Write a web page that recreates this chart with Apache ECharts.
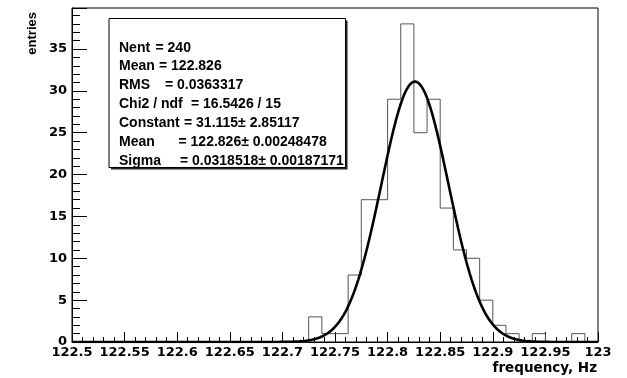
<!DOCTYPE html>
<html>
<head>
<meta charset="utf-8">
<script src="https://cdn.jsdelivr.net/npm/echarts@6/dist/echarts.min.js"></script>
<style>
  html, body { margin: 0; padding: 0; background: #fff; }
  #chart { width: 627px; height: 378px; }
</style>
</head>
<body>
<div id="chart"></div>
<script>
// Histogram binning: 40 bins of 0.0125 Hz starting at 122.5 Hz
const xLow = 122.5;
const xHigh = 123.0;
const binWidth = 0.0125;
const counts = [
  0, 0, 0, 0, 0, 0, 0, 0, 0, 0,
  0, 0, 0, 0, 0, 0, 0, 0, 3, 1,
  1, 8, 17, 17, 29, 38, 25, 29, 16, 11,
  10, 5, 2, 1, 0, 1, 0, 0, 1, 0
];

// Gaussian fit parameters
const fitConstant = 31.115;
const fitMean = 122.826;
const fitSigma = 0.0318518;

// Statistics box lines: name and "= value" text
const statNames = ['Nent', 'Mean', 'RMS', 'Chi2 / ndf', 'Constant', 'Mean', 'Sigma'];
const statValues = [
  '= 240',
  '= 122.826',
  '= 0.0363317',
  '= 16.5426 / 15',
  '= 31.115\u00b1 2.85117',
  '= 122.826\u00b1 0.00248478',
  '= 0.0318518\u00b1 0.00187171'
];
const statEqX = [155.5, 159, 165, 191, 184, 178.5, 180];

const xTitle = 'frequency, Hz';
const yTitle = 'entries';

const FONT = '"Liberation Sans", Arial, Helvetica, sans-serif';
const TICKFONT = '"DejaVu Sans", Verdana, sans-serif';

// Step outline of the histogram: one point per left bin edge, plus the right edge
const histData = counts.map((c, i) => [xLow + i * binWidth, c]);
histData.push([xHigh, counts[counts.length - 1]]);

// Fitted gaussian sampled across the histogram range
const fitData = [];
for (let i = 0; i <= 500; i++) {
  const x = xLow + (xHigh - xLow) * i / 500;
  const u = (x - fitMean) / fitSigma;
  fitData.push([x, fitConstant * Math.exp(-0.5 * u * u)]);
}

const chart = echarts.init(document.getElementById('chart'), null, { renderer: 'canvas' });

const boxL = 109, boxT = 18.5, boxR = 345.5, boxB = 167.5;
const lineY0 = 47.7, lineStep = 18.9;
const statGraphics = [];
// shadow and frame of the stats box
statGraphics.push({
  type: 'rect', shape: { x: boxL + 2, y: boxT + 2, width: boxR - boxL, height: boxB - boxT },
  style: { fill: '#222' }, z: 100
});
statGraphics.push({
  type: 'rect', shape: { x: boxL, y: boxT, width: boxR - boxL, height: boxB - boxT },
  style: { fill: '#fff', stroke: '#000', lineWidth: 1 }, z: 101
});
statNames.forEach((name, i) => {
  const y = lineY0 + i * lineStep;
  statGraphics.push({
    type: 'text', x: 119, y: y, z: 102,
    style: { text: name, fill: '#000', font: 'bold 14px ' + FONT, textAlign: 'left', textVerticalAlign: 'middle' }
  });
  statGraphics.push({
    type: 'text', x: statEqX[i], y: y, z: 102,
    style: { text: statValues[i], fill: '#000', font: 'bold 14px ' + FONT, textAlign: 'left', textVerticalAlign: 'middle' }
  });
});

const option = {
  animation: false,
  backgroundColor: '#fff',
  grid: {
    left: 72, right: 29, top: 8, bottom: 36,
    show: true, borderColor: '#000', borderWidth: 1, backgroundColor: 'transparent'
  },
  xAxis: {
    type: 'value', min: xLow, max: xHigh, interval: 0.05,
    axisLine: { show: true, onZero: false, lineStyle: { color: '#000', width: 1 } },
    axisTick: { show: true, inside: true, length: 10, lineStyle: { color: '#000', width: 1 } },
    minorTick: { show: true, splitNumber: 5, length: 5, lineStyle: { color: '#000', width: 1 } },
    splitLine: { show: false },
    axisLabel: {
      color: '#000', fontSize: 13, fontWeight: 'bold', fontFamily: TICKFONT, margin: 4,
      showMinLabel: true, showMaxLabel: true,
      formatter: v => String(Math.round(v * 1000) / 1000)
    }
  },
  yAxis: {
    type: 'value', min: 0, max: 39.9, interval: 5,
    axisLine: { show: true, lineStyle: { color: '#000', width: 1 } },
    axisTick: { show: true, inside: true, length: 15, lineStyle: { color: '#000', width: 1 } },
    minorTick: { show: true, splitNumber: 5, length: 8, lineStyle: { color: '#000', width: 1 } },
    splitLine: { show: false },
    axisLabel: {
      color: '#000', fontSize: 13, fontWeight: 'bold', fontFamily: TICKFONT, margin: 5,
      showMaxLabel: false
    }
  },
  series: [
    {
      name: 'histogram', type: 'line', step: 'end', data: histData,
      symbol: 'none', lineStyle: { color: '#555', width: 1 }, z: 2, silent: true
    },
    {
      name: 'fit', type: 'line', data: fitData,
      symbol: 'none', smooth: false, lineStyle: { color: '#000', width: 2.6 }, z: 3, silent: true
    }
  ],
  graphic: [
    {
      type: 'text', x: 32, y: 12, rotation: Math.PI / 2, z: 50,
      style: { text: yTitle, fill: '#000', font: 'bold 13px ' + FONT, textAlign: 'right', textVerticalAlign: 'middle' }
    },
    {
      type: 'text', x: 597, y: 368, z: 50,
      style: { text: xTitle, fill: '#000', font: 'bold 13.5px ' + TICKFONT, textAlign: 'right', textVerticalAlign: 'middle' }
    }
  ].concat(statGraphics)
};

chart.setOption(option);
</script>
</body>
</html>
